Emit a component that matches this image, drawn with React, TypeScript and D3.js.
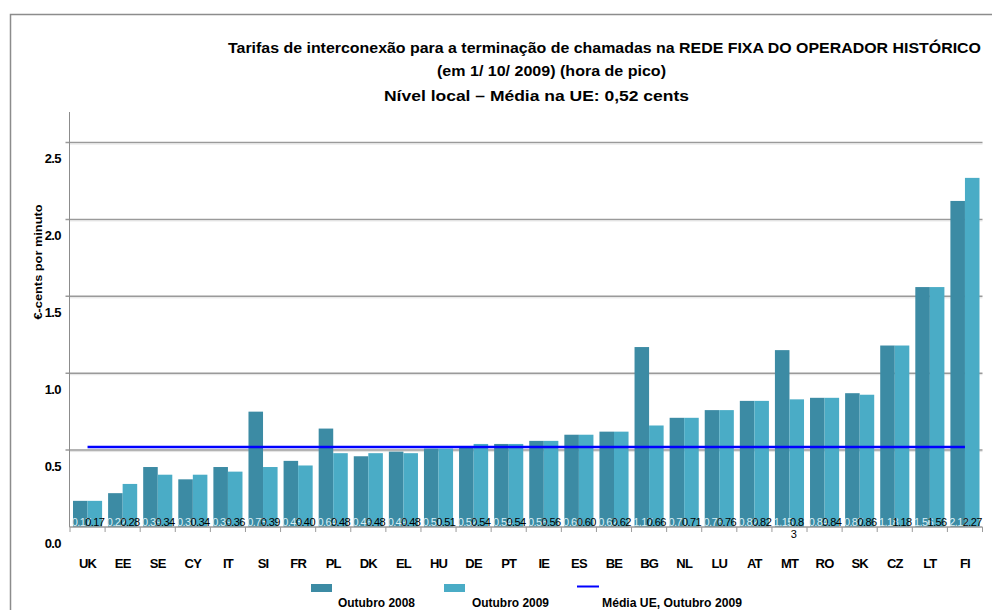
import React from "react";
import * as d3 from "d3";

const categories = ["UK","EE","SE","CY","IT","SI","FR","PL","DK","EL","HU","DE","PT","IE","ES","BE","BG","NL","LU","AT","MT","RO","SK","CZ","LT","FI"];
const oct2008 = [0.17,0.22,0.39,0.31,0.39,0.75,0.43,0.64,0.46,0.49,0.51,0.52,0.54,0.56,0.60,0.62,1.17,0.71,0.76,0.82,1.15,0.84,0.87,1.18,1.56,2.12];
const oct2009 = [0.17,0.28,0.34,0.34,0.36,0.39,0.40,0.48,0.48,0.48,0.51,0.54,0.54,0.56,0.60,0.62,0.66,0.71,0.76,0.82,0.83,0.84,0.86,1.18,1.56,2.27];
const euAverage = 0.52;
const yTicks = [0, 0.5, 1.0, 1.5, 2.0, 2.5];
const wrappedLabels = ["MT"];
const titleLines = [
  "Tarifas de interconexão para a terminação de chamadas na REDE FIXA DO OPERADOR HISTÓRICO",
  "(em 1/ 10/ 2009) (hora de pico)",
  "Nível local – Média na UE: 0,52 cents",
];
const yTitle = "€-cents por minuto";
const legendLabels = ["Outubro 2008", "Outubro 2009", "Média UE,  Outubro 2009"];

const DARK = "#3c8ba4";
const LIGHT = "#4aacc6";
const FONT = "'Liberation Sans', Arial, sans-serif";

export default function App() {
  const x = d3.scaleBand<string>().domain(categories).range([70, 982.5]).paddingInner(0).paddingOuter(0);
  const inner = d3.scaleBand<string>().domain(["2008", "2009"]).range([3, x.bandwidth() - 3]);
  const y = d3.scaleLinear().domain([0, 2.5]).range([527, 142.5]);
  const fmt = d3.format(".2f");
  const fmtTick = d3.format(".1f");

  const titleGeom = [
    { x: 228, y: 53, w: 753 },
    { x: 437, y: 76, w: 229 },
    { x: 384, y: 101, w: 305 },
  ];

  const first = categories[0];
  const last = categories[categories.length - 1];

  return (
    <svg width={992} height={610} style={{ position: "absolute", left: 0, top: 0, background: "#fff" }} fontFamily={FONT}>
      <rect x={0} y={0} width={992} height={610} fill="#fff" />
      <path d="M10.5,610 V14.5 H992" fill="none" stroke="#8c8c8c" strokeWidth={1.5} />

      {titleLines.map((t, i) => (
        <text key={i} x={titleGeom[i].x} y={titleGeom[i].y} fontSize={15} fontWeight="bold"
          textLength={titleGeom[i].w} lengthAdjust="spacingAndGlyphs" fill="#000">{t}</text>
      ))}

      {yTicks.filter(t => t > 0).map(t => (
        <g key={t}>
          <line x1={65.5} x2={982.5} y1={y(t)} y2={y(t)} stroke="#9a9a9a" strokeWidth={1.5} />
          <line x1={70} x2={982.5} y1={y(t) + 1.5} y2={y(t) + 1.5} stroke="#e2e2e2" strokeWidth={1} />
        </g>
      ))}

      <line x1={69.5} x2={69.5} y1={112} y2={y(0)} stroke="#8c8c8c" strokeWidth={1} />
      {yTicks.map(t => (
        <text key={t} x={61} y={y(t) + 20.5} textAnchor="end" fontSize={13} fontWeight="bold" letterSpacing={-0.6} fill="#000">{fmtTick(t)}</text>
      ))}
      <text transform={`translate(42,262) rotate(-90)`} textAnchor="middle" fontSize={11.5} fontWeight="bold"
        textLength={115} lengthAdjust="spacingAndGlyphs" fill="#000">{yTitle}</text>

      {categories.map((c, i) => {
        const bx = x(c)!;
        return (
          <g key={c}>
            <rect x={bx + inner("2008")!} y={y(oct2008[i])} width={inner.bandwidth()} height={y(0) - y(oct2008[i])} fill={DARK} />
            <rect x={bx + inner("2009")!} y={y(oct2009[i])} width={inner.bandwidth()} height={y(0) - y(oct2009[i])} fill={LIGHT} />
          </g>
        );
      })}

      <line x1={69.5} x2={982.5} y1={y(0)} y2={y(0)} stroke="#9a9a9a" strokeWidth={1.5} />
      {categories.map((c) => (
        <line key={c} x1={x(c)!} x2={x(c)!} y1={y(0)} y2={y(0) + 5} stroke="#9a9a9a" strokeWidth={1} />
      ))}
      <line x1={982.5} x2={982.5} y1={y(0)} y2={y(0) + 5} stroke="#9a9a9a" strokeWidth={1} />

      {categories.map((c, i) => {
        const cx = x(c)! + inner("2008")! + inner.bandwidth() / 2;
        return (
          <text key={c} x={cx + 1} y={526} textAnchor="middle" fontSize={11} letterSpacing={-0.6} fill="#d9eef4">{fmt(oct2008[i])}</text>
        );
      })}
      {categories.map((c, i) => {
        const cx = x(c)! + inner("2009")! + inner.bandwidth() / 2;
        const s = fmt(oct2009[i]);
        if (wrappedLabels.includes(c)) {
          return (
            <g key={c}>
              <text x={cx} y={526} textAnchor="middle" fontSize={11} letterSpacing={-0.6} fill="#000">{s.slice(0, 3)}</text>
              <text x={cx - 3} y={538} textAnchor="middle" fontSize={11} fill="#000">{s.slice(3)}</text>
            </g>
          );
        }
        return (
          <text key={c} x={cx} y={526} textAnchor="middle" fontSize={11} letterSpacing={-0.6} fill="#000">{s}</text>
        );
      })}

      <line x1={x(first)! + x.bandwidth() / 2} x2={x(last)! + x.bandwidth() / 2} y1={y(euAverage)} y2={y(euAverage)}
        stroke="#0000ff" strokeWidth={2.5} />

      {categories.map((c) => (
        <text key={c} x={x(c)! + x.bandwidth() / 2} y={568} textAnchor="middle" fontSize={13} fontWeight="bold" letterSpacing={-0.8} fill="#000">{c}</text>
      ))}

      <rect x={311} y={584} width={21} height={8} fill={DARK} />
      <rect x={444} y={584} width={21} height={8} fill={LIGHT} />
      <line x1={577} x2={599} y1={586.5} y2={586.5} stroke="#0000ff" strokeWidth={2} />
      <text x={338} y={607} fontSize={12.5} fontWeight="bold" textLength={77} lengthAdjust="spacingAndGlyphs">{legendLabels[0]}</text>
      <text x={472} y={607} fontSize={12.5} fontWeight="bold" textLength={77} lengthAdjust="spacingAndGlyphs">{legendLabels[1]}</text>
      <text x={602} y={607} fontSize={12.5} fontWeight="bold" textLength={140} lengthAdjust="spacingAndGlyphs">{legendLabels[2]}</text>
    </svg>
  );
}
